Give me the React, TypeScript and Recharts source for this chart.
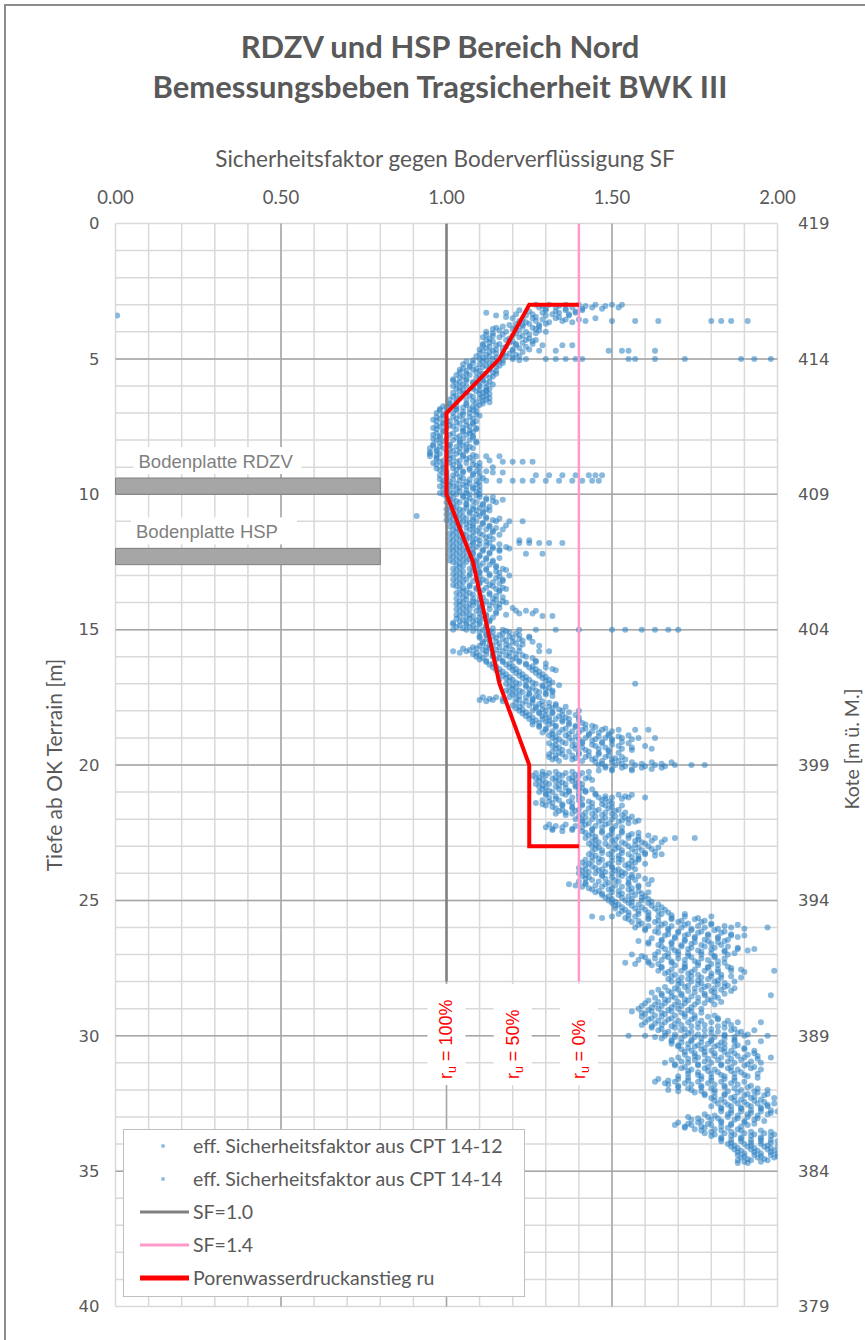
import React from 'react';
import {
  ScatterChart,
  Scatter,
  XAxis,
  YAxis,
  CartesianGrid,
  ReferenceArea,
  ReferenceDot,
} from 'recharts';

// ---------- axis / grid values ----------
const sfTicks = [0, 0.5, 1, 1.5, 2];
const depthTicks = [0, 5, 10, 15, 20, 25, 30, 35, 40];
const koteTicks = [379, 384, 389, 394, 399, 404, 409, 414, 419];
const sfMinor = [0, 0.1, 0.2, 0.3, 0.4, 0.5, 0.6, 0.7, 0.8, 0.9, 1, 1.1, 1.2, 1.3, 1.4, 1.5, 1.6, 1.7, 1.8, 1.9, 2];
const sfMajor = [0.5, 1, 1.5];
const depthMinor = [0, 1, 2, 3, 4, 5, 6, 7, 8, 9, 10, 11, 12, 13, 14, 15, 16, 17, 18, 19, 20, 21, 22, 23, 24, 25, 26, 27, 28, 29, 30, 31, 32, 33, 34, 35, 36, 37, 38, 39, 40];
const depthMajor = [5, 10, 15, 20, 25, 30, 35];

// ---------- series names ----------
const nameCpt1412 = 'eff. Sicherheitsfaktor aus CPT 14-12';
const nameCpt1414 = 'eff. Sicherheitsfaktor aus CPT 14-14';
const nameSf10 = 'SF=1.0';
const nameSf14 = 'SF=1.4';
const nameRu = 'Porenwasserdruckanstieg ru';

// ---------- CPT data: [depth, SF values...] ----------
const cpt1412Rows: number[][] = [
  [3.0, 1.27, 1.31, 1.36, 1.40, 1.45, 1.50, 1.53],
  [3.2, 1.22, 1.30, 1.36, 1.41],
  [3.4, 0.005, 1.15, 1.24, 1.30, 1.37],
  [3.6, 1.22, 1.27, 1.35, 1.42, 1.50, 1.57, 1.64, 1.80, 1.83, 1.86, 1.91],
  [3.8, 1.17, 1.23, 1.28],
  [4.0, 1.12, 1.18, 1.24, 1.30],
  [4.2, 1.11, 1.16, 1.22],
  [4.4, 1.13, 1.19, 1.23],
  [4.6, 1.12, 1.17, 1.22],
  [4.8, 1.10, 1.15, 1.19],
  [5.0, 1.10, 1.14, 1.20, 1.24, 1.30, 1.33, 1.36, 1.39, 1.41, 1.55, 1.57, 1.63, 1.72, 1.89, 1.93, 1.98],
  [5.2, 1.05, 1.10, 1.14],
  [5.4, 1.04, 1.08, 1.13],
  [5.6, 1.03, 1.07, 1.12],
  [5.8, 1.02, 1.06, 1.11],
  [6.0, 1.02, 1.06, 1.10],
  [6.2, 1.04, 1.09, 1.12],
  [6.4, 1.02, 1.08, 1.11],
  [6.6, 1.03, 1.09, 1.13],
  [6.8, 1.00, 1.05, 1.09],
  [7.0, 0.97, 1.02, 1.07],
  [7.2, 0.98, 1.03, 1.08],
  [7.4, 0.99, 1.04, 1.08],
  [7.6, 0.97, 1.03, 1.09],
  [7.8, 0.96, 1.01, 1.06],
  [8.0, 0.97, 1.02, 1.07],
  [8.2, 0.96, 1.01, 1.05],
  [8.4, 0.97, 1.02, 1.06],
  [8.6, 0.95, 1.00, 1.05, 1.09, 1.12, 1.16],
  [8.8, 0.98, 1.03, 1.17, 1.20, 1.23, 1.26],
  [9.0, 0.99, 1.04, 1.10, 1.14],
  [9.2, 0.99, 1.05, 1.10, 1.14, 1.17],
  [9.4, 1.00, 1.05, 1.11],
  [9.6, 0.99, 1.03, 1.07],
  [9.8, 0.99, 1.03, 1.08],
  [10.0, 0.99, 1.03, 1.07, 1.10],
  [10.2, 1.01, 1.06, 1.12, 1.17],
  [10.4, 1.01, 1.06, 1.11],
  [10.6, 1.01, 1.05, 1.09, 1.13],
  [10.8, 0.91, 1.01, 1.05, 1.10],
  [11.0, 1.01, 1.05, 1.09, 1.15, 1.19, 1.23],
  [11.2, 1.01, 1.04, 1.08, 1.13],
  [11.4, 1.03, 1.08, 1.14],
  [11.6, 1.03, 1.07, 1.12],
  [11.8, 1.03, 1.08, 1.13, 1.22, 1.25, 1.28, 1.31, 1.35],
  [12.0, 1.03, 1.08, 1.14, 1.19],
  [12.2, 1.03, 1.08, 1.13, 1.24, 1.29],
  [12.4, 1.03, 1.07, 1.12],
  [12.6, 1.03, 1.08, 1.13],
  [12.8, 1.03, 1.08, 1.12, 1.18],
  [13.0, 1.03, 1.07, 1.13, 1.19],
  [13.2, 1.03, 1.08, 1.12, 1.17],
  [13.4, 1.03, 1.07, 1.14],
  [13.6, 1.05, 1.10, 1.16],
  [13.8, 1.05, 1.11, 1.17],
  [14.0, 1.05, 1.09, 1.14, 1.18],
  [14.2, 1.05, 1.10, 1.16, 1.20],
  [14.4, 1.05, 1.10, 1.15, 1.22, 1.26],
  [14.6, 1.03, 1.07, 1.11],
  [14.8, 1.02, 1.06, 1.10],
  [15.0, 1.02, 1.06, 1.11, 1.17, 1.22, 1.27, 1.33, 1.40, 1.50, 1.54, 1.59, 1.63, 1.67, 1.70],
  [15.2, 1.12, 1.16, 1.22],
  [15.4, 1.13, 1.18, 1.23],
  [15.6, 1.10, 1.14, 1.19, 1.28],
  [15.8, 1.02, 1.06, 1.12, 1.17, 1.22, 1.28, 1.31],
  [16.0, 1.09, 1.14, 1.19, 1.24],
  [16.2, 1.12, 1.17, 1.22, 1.27],
  [16.4, 1.14, 1.19, 1.25, 1.30],
  [16.6, 1.16, 1.21, 1.27],
  [16.8, 1.18, 1.23, 1.29],
  [17.0, 1.18, 1.22, 1.27, 1.31, 1.57],
  [17.2, 1.20, 1.25, 1.30],
  [17.4, 1.20, 1.25, 1.30],
  [17.6, 1.10, 1.14, 1.22, 1.26],
  [17.8, 1.20, 1.25, 1.29, 1.33],
  [18.0, 1.22, 1.26, 1.30, 1.35, 1.40],
  [18.2, 1.24, 1.29, 1.34],
  [18.4, 1.26, 1.30, 1.35],
  [18.6, 1.28, 1.33, 1.39, 1.45],
  [18.8, 1.29, 1.34, 1.40, 1.46],
  [19.0, 1.32, 1.37, 1.42, 1.48, 1.53, 1.58, 1.63],
  [19.2, 1.31, 1.36, 1.41, 1.47, 1.55],
  [19.4, 1.33, 1.39, 1.46, 1.53, 1.62],
  [19.6, 1.31, 1.35, 1.40, 1.46],
  [19.8, 1.32, 1.38, 1.44, 1.50, 1.54],
  [20.0, 1.46, 1.51, 1.57, 1.63, 1.69, 1.74, 1.78],
  [20.2, 1.46, 1.50, 1.56],
  [20.4, 1.26, 1.30, 1.35, 1.40],
  [20.6, 1.28, 1.33, 1.38],
  [20.8, 1.28, 1.33, 1.39],
  [21.0, 1.28, 1.32, 1.37, 1.42],
  [21.2, 1.31, 1.38, 1.46, 1.50, 1.55, 1.60],
  [21.4, 1.27, 1.32, 1.38, 1.44, 1.50],
  [21.6, 1.33, 1.38, 1.43, 1.49],
  [21.8, 1.33, 1.38, 1.44, 1.50],
  [22.0, 1.39, 1.44, 1.50, 1.55],
  [22.2, 1.31, 1.36, 1.42, 1.48],
  [22.4, 1.32, 1.38, 1.44, 1.50],
  [22.6, 1.43, 1.49, 1.55, 1.61],
  [22.8, 1.44, 1.50, 1.57, 1.62],
  [23.0, 1.44, 1.49, 1.55, 1.61],
  [23.2, 1.44, 1.50, 1.57, 1.63],
  [23.4, 1.44, 1.50, 1.56],
  [23.6, 1.41, 1.46, 1.52, 1.57],
  [23.8, 1.40, 1.45, 1.50, 1.55],
  [24.0, 1.40, 1.45, 1.50, 1.54],
  [24.2, 1.42, 1.48, 1.55, 1.60],
  [24.4, 1.37, 1.42, 1.48, 1.55, 1.61],
  [24.6, 1.44, 1.49, 1.55],
  [24.8, 1.47, 1.52, 1.57],
  [25.0, 1.49, 1.54, 1.59],
  [25.2, 1.51, 1.56, 1.62],
  [25.4, 1.53, 1.58, 1.64],
  [25.6, 1.44, 1.50, 1.57, 1.64, 1.72, 1.80],
  [25.8, 1.56, 1.63, 1.70, 1.77],
  [26.0, 1.57, 1.64, 1.71, 1.78, 1.86, 1.97],
  [26.2, 1.64, 1.70, 1.76, 1.83],
  [26.4, 1.62, 1.69, 1.75, 1.82],
  [26.6, 1.61, 1.68, 1.74, 1.80],
  [26.8, 1.66, 1.73, 1.80, 1.88, 1.93],
  [27.0, 1.56, 1.63, 1.70, 1.77, 1.85],
  [27.2, 1.58, 1.65, 1.72, 1.79],
  [27.4, 1.62, 1.69, 1.76, 1.82],
  [27.6, 1.64, 1.71, 1.78, 1.86, 1.99],
  [27.8, 1.68, 1.74, 1.80, 1.86],
  [28.0, 1.68, 1.74, 1.81, 1.87],
  [28.2, 1.66, 1.72, 1.78, 1.84],
  [28.4, 1.62, 1.68, 1.75, 1.81],
  [28.6, 1.63, 1.69, 1.76, 1.82],
  [28.8, 1.60, 1.66, 1.72, 1.78],
  [29.0, 1.58, 1.64, 1.70, 1.77],
  [29.2, 1.60, 1.66, 1.72],
  [29.4, 1.61, 1.67, 1.74, 1.82],
  [29.6, 1.59, 1.65, 1.71, 1.78, 1.86],
  [29.8, 1.64, 1.71, 1.78, 1.86, 1.93],
  [30.0, 1.55, 1.60, 1.66, 1.72, 1.78, 1.84, 1.90, 1.97],
  [30.2, 1.68, 1.74, 1.80, 1.87, 1.95],
  [30.4, 1.70, 1.75, 1.81, 1.87],
  [30.6, 1.72, 1.78, 1.84],
  [30.8, 1.70, 1.76, 1.83, 1.90, 1.98],
  [31.0, 1.66, 1.73, 1.80, 1.87, 1.95],
  [31.2, 1.71, 1.78, 1.85, 1.92],
  [31.4, 1.73, 1.80, 1.87, 1.94],
  [31.6, 1.64, 1.70, 1.77, 1.84],
  [31.8, 1.67, 1.74, 1.81, 1.88],
  [32.0, 1.67, 1.74, 1.81, 1.89, 1.97],
  [32.2, 1.78, 1.84, 1.90, 1.96],
  [32.4, 1.81, 1.87, 1.93],
  [32.6, 1.80, 1.86, 1.92, 1.97],
  [32.8, 1.83, 1.89, 1.95, 2.00],
  [33.0, 1.73, 1.79, 1.85, 1.91],
  [33.2, 1.70, 1.76, 1.83, 1.90],
  [33.4, 1.72, 1.78, 1.85],
  [33.6, 1.78, 1.84, 1.90, 1.96],
  [33.8, 1.83, 1.89, 1.95],
  [34.0, 1.85, 1.90, 1.95],
  [34.2, 1.87, 1.92, 1.97],
  [34.4, 1.88, 1.93, 1.98],
  [34.6, 1.88, 1.92, 1.97],
];

const cpt1412RowsB: number[][] = [
  [3.05, 1.29, 1.34, 1.42, 1.48], [3.25, 1.25, 1.33, 1.39], [3.45, 1.18, 1.27, 1.34], [3.65, 1.24, 1.31, 1.38],
  [3.85, 1.15, 1.21, 1.26], [4.05, 1.14, 1.21, 1.27], [4.25, 1.13, 1.19, 1.25], [4.45, 1.11, 1.16, 1.21, 1.26],
  [4.65, 1.10, 1.15, 1.20, 1.25], [4.85, 1.12, 1.17, 1.21], [5.05, 1.08, 1.12, 1.17, 1.22], [5.25, 1.07, 1.12, 1.16],
  [5.45, 1.06, 1.10, 1.15], [5.65, 1.05, 1.10, 1.14], [5.85, 1.04, 1.08, 1.13], [6.05, 1.04, 1.08, 1.12],
  [6.25, 1.02, 1.06, 1.11], [6.45, 1.04, 1.10, 1.13], [6.65, 1.01, 1.06, 1.11], [6.85, 0.98, 1.03, 1.07],
  [7.05, 0.99, 1.05, 1.09], [7.25, 0.96, 1.00, 1.05], [7.45, 0.97, 1.01, 1.06], [7.65, 0.99, 1.05, 1.07],
  [7.85, 0.98, 1.04, 1.08], [8.05, 0.99, 1.04, 1.09], [8.25, 0.98, 1.03, 1.07], [8.45, 0.95, 1.00, 1.04],
  [8.65, 0.97, 1.02, 1.07], [8.85, 0.96, 1.01, 1.06, 1.10], [9.05, 0.97, 1.02, 1.07], [9.25, 1.00, 1.03, 1.08],
  [9.45, 0.98, 1.02, 1.07], [9.65, 1.01, 1.05, 1.09], [9.85, 1.01, 1.06, 1.10], [10.05, 1.01, 1.05, 1.09],
  [10.25, 1.03, 1.08, 1.14], [10.45, 1.03, 1.08, 1.13], [10.65, 1.03, 1.07, 1.11], [10.85, 1.03, 1.08, 1.12],
  [11.05, 1.03, 1.07, 1.11], [11.25, 1.03, 1.06, 1.10, 1.15], [11.45, 1.01, 1.05, 1.10], [11.65, 1.01, 1.05, 1.09, 1.14],
  [11.85, 1.01, 1.05, 1.10, 1.16], [12.05, 1.01, 1.05, 1.11, 1.16], [12.25, 1.01, 1.05, 1.10], [12.45, 1.01, 1.05, 1.09, 1.14],
  [12.65, 1.05, 1.10, 1.15], [12.85, 1.05, 1.10, 1.15], [13.05, 1.05, 1.10, 1.16], [13.25, 1.05, 1.10, 1.14],
  [13.45, 1.05, 1.09, 1.12, 1.17], [13.65, 1.03, 1.07, 1.13], [13.85, 1.03, 1.08, 1.14], [14.05, 1.03, 1.07, 1.11, 1.16],
  [14.25, 1.03, 1.07, 1.13], [14.45, 1.03, 1.07, 1.12, 1.18], [14.65, 1.05, 1.09, 1.13], [14.85, 1.04, 1.08, 1.12],
  [15.05, 1.08, 1.13, 1.18], [15.25, 1.10, 1.14, 1.19, 1.25], [15.45, 1.11, 1.15, 1.20, 1.26], [15.65, 1.08, 1.12, 1.16, 1.22],
  [15.85, 1.04, 1.09, 1.14, 1.19], [16.05, 1.11, 1.16, 1.21, 1.26], [16.25, 1.14, 1.19, 1.24, 1.30], [16.45, 1.16, 1.21, 1.27, 1.32],
  [16.65, 1.18, 1.23, 1.29], [16.85, 1.16, 1.20, 1.25, 1.31], [17.05, 1.20, 1.24, 1.29, 1.34], [17.25, 1.18, 1.22, 1.27, 1.32],
  [17.45, 1.22, 1.27, 1.32], [17.65, 1.12, 1.17, 1.24, 1.29], [17.85, 1.22, 1.27, 1.31, 1.36], [18.05, 1.24, 1.28, 1.32, 1.37],
  [18.25, 1.26, 1.31, 1.36, 1.40], [18.45, 1.28, 1.32, 1.37, 1.41], [18.65, 1.30, 1.36, 1.42, 1.48], [18.85, 1.32, 1.37, 1.43, 1.49],
  [19.05, 1.34, 1.40, 1.45, 1.50, 1.56], [19.25, 1.33, 1.39, 1.44, 1.50], [19.45, 1.35, 1.42, 1.49, 1.56], [19.65, 1.33, 1.38, 1.43, 1.49],
  [19.85, 1.34, 1.41, 1.47, 1.52], [20.05, 1.48, 1.54, 1.60, 1.66], [20.25, 1.29, 1.33, 1.38, 1.43], [20.45, 1.28, 1.33, 1.38, 1.43],
  [20.65, 1.30, 1.35, 1.40], [20.85, 1.30, 1.36, 1.41], [21.05, 1.30, 1.35, 1.40, 1.45], [21.25, 1.33, 1.41, 1.48, 1.53],
  [21.45, 1.29, 1.35, 1.41, 1.47], [21.65, 1.35, 1.40, 1.46, 1.52], [21.85, 1.36, 1.41, 1.47, 1.53], [22.05, 1.41, 1.47, 1.53, 1.58],
  [22.25, 1.33, 1.39, 1.45, 1.51], [22.45, 1.35, 1.41, 1.47, 1.53], [22.65, 1.45, 1.52, 1.58], [22.85, 1.46, 1.53, 1.59, 1.65],
  [23.05, 1.46, 1.52, 1.58, 1.64], [23.25, 1.47, 1.53, 1.60], [23.45, 1.46, 1.52, 1.58], [23.65, 1.43, 1.49, 1.55, 1.60],
  [23.85, 1.42, 1.47, 1.52, 1.57], [24.05, 1.42, 1.47, 1.52, 1.56], [24.25, 1.44, 1.51, 1.57, 1.62], [24.45, 1.39, 1.45, 1.51, 1.58],
  [24.65, 1.46, 1.52, 1.58], [24.85, 1.49, 1.55, 1.60], [25.05, 1.51, 1.56, 1.62], [25.25, 1.53, 1.59, 1.65],
  [25.45, 1.55, 1.61, 1.67], [25.65, 1.47, 1.54, 1.61, 1.68, 1.76], [25.85, 1.59, 1.66, 1.73, 1.80], [26.05, 1.60, 1.67, 1.74, 1.82, 1.90],
  [26.25, 1.67, 1.73, 1.79, 1.86], [26.45, 1.65, 1.72, 1.78, 1.85], [26.65, 1.64, 1.71, 1.77, 1.83], [26.85, 1.69, 1.76, 1.84, 1.91],
  [27.05, 1.59, 1.66, 1.73, 1.81], [27.25, 1.61, 1.68, 1.75, 1.82], [27.45, 1.65, 1.72, 1.79, 1.85], [27.65, 1.67, 1.74, 1.82, 1.90],
  [27.85, 1.71, 1.77, 1.83, 1.89], [28.05, 1.71, 1.77, 1.84], [28.25, 1.69, 1.75, 1.81, 1.87], [28.45, 1.65, 1.71, 1.78, 1.84],
  [28.65, 1.66, 1.72, 1.79], [28.85, 1.63, 1.69, 1.75, 1.81], [29.05, 1.61, 1.67, 1.73], [29.25, 1.63, 1.69, 1.75, 1.81],
  [29.45, 1.64, 1.70, 1.77, 1.85], [29.65, 1.62, 1.68, 1.74, 1.82], [29.85, 1.67, 1.74, 1.82, 1.89], [30.05, 1.63, 1.69, 1.75, 1.81, 1.87],
  [30.25, 1.71, 1.77, 1.83, 1.91], [30.45, 1.73, 1.78, 1.84, 1.90], [30.65, 1.75, 1.81, 1.87, 1.93], [30.85, 1.73, 1.79, 1.86, 1.94],
  [31.05, 1.69, 1.76, 1.83, 1.91], [31.25, 1.74, 1.81, 1.88, 1.95], [31.45, 1.76, 1.83, 1.90], [31.65, 1.67, 1.73, 1.80, 1.87],
  [31.85, 1.70, 1.77, 1.84, 1.92], [32.05, 1.70, 1.77, 1.85, 1.93], [32.25, 1.81, 1.87, 1.93], [32.45, 1.84, 1.90, 1.96],
  [32.65, 1.83, 1.89, 1.95], [32.85, 1.86, 1.92, 1.98], [33.05, 1.76, 1.82, 1.88, 1.94], [33.25, 1.73, 1.79, 1.86, 1.93],
  [33.45, 1.75, 1.81, 1.88], [33.65, 1.81, 1.87, 1.93, 1.99], [33.85, 1.86, 1.92, 1.98], [34.05, 1.87, 1.92, 1.97],
  [34.25, 1.89, 1.94, 1.99], [34.45, 1.90, 1.95, 2.00], [34.65, 1.90, 1.95],
];

const cpt1414Rows: number[][] = [
  [3.1, 1.28, 1.33, 1.38, 1.44, 1.52],
  [3.3, 1.12, 1.18, 1.29, 1.34, 1.39],
  [3.5, 1.20, 1.26, 1.33, 1.45],
  [3.7, 1.21, 1.25, 1.30],
  [3.9, 1.14, 1.20, 1.27],
  [4.1, 1.12, 1.17, 1.25],
  [4.3, 1.12, 1.18, 1.24, 1.27],
  [4.5, 1.11, 1.15, 1.21, 1.29, 1.35, 1.38],
  [4.7, 1.11, 1.14, 1.20, 1.28, 1.33, 1.49, 1.53, 1.55, 1.63],
  [4.9, 1.09, 1.13, 1.18, 1.22],
  [5.1, 1.06, 1.11, 1.16],
  [5.3, 1.07, 1.11, 1.15],
  [5.5, 1.04, 1.09, 1.14],
  [5.7, 1.04, 1.09, 1.13],
  [5.9, 1.03, 1.08, 1.12],
  [6.1, 1.03, 1.08, 1.13],
  [6.3, 1.05, 1.10, 1.13],
  [6.5, 1.01, 1.06, 1.12],
  [6.7, 1.01, 1.06, 1.10],
  [6.9, 0.98, 1.03, 1.08],
  [7.1, 0.99, 1.04, 1.10],
  [7.3, 0.97, 1.01, 1.06, 1.09],
  [7.5, 0.98, 1.02, 1.07],
  [7.7, 0.99, 1.05, 1.08],
  [7.9, 0.98, 1.03, 1.08],
  [8.1, 0.98, 1.04, 1.09],
  [8.3, 0.95, 0.99, 1.04, 1.08],
  [8.5, 0.95, 0.98, 1.03],
  [8.7, 0.97, 1.01, 1.06],
  [8.9, 0.97, 1.02, 1.08],
  [9.1, 0.98, 1.03, 1.07],
  [9.3, 0.98, 1.02, 1.08, 1.27, 1.31, 1.35, 1.39, 1.43, 1.45, 1.47],
  [9.5, 0.99, 1.04, 1.09, 1.12, 1.16, 1.20, 1.23, 1.26, 1.30, 1.34, 1.38, 1.41, 1.44, 1.46],
  [9.7, 0.98, 1.02, 1.06, 1.10],
  [9.9, 1.00, 1.04, 1.09],
  [10.1, 1.00, 1.05, 1.10, 1.14],
  [10.3, 1.00, 1.04, 1.09, 1.15],
  [10.5, 1.02, 1.06, 1.10],
  [10.7, 1.02, 1.07, 1.11],
  [10.9, 1.02, 1.06, 1.12, 1.16],
  [11.1, 1.02, 1.06, 1.11],
  [11.3, 1.02, 1.07, 1.12, 1.17],
  [11.5, 1.02, 1.06, 1.11, 1.16],
  [11.7, 1.02, 1.06, 1.10, 1.22, 1.25],
  [11.9, 1.02, 1.07, 1.12],
  [12.1, 1.02, 1.06, 1.11, 1.16],
  [12.3, 1.02, 1.06, 1.10],
  [12.5, 1.02, 1.06, 1.09, 1.14],
  [12.7, 1.04, 1.09, 1.15],
  [12.9, 1.04, 1.10, 1.16],
  [13.1, 1.04, 1.09, 1.15],
  [13.3, 1.04, 1.10, 1.16],
  [13.5, 1.04, 1.09, 1.15, 1.18],
  [13.7, 1.04, 1.08, 1.13],
  [13.9, 1.06, 1.10, 1.15],
  [14.1, 1.04, 1.08, 1.13],
  [14.3, 1.04, 1.09, 1.21, 1.24, 1.27],
  [14.5, 1.04, 1.08, 1.12, 1.29, 1.32],
  [14.7, 1.04, 1.08, 1.13],
  [14.9, 1.03, 1.07, 1.12],
  [15.1, 1.10, 1.14, 1.19],
  [15.3, 1.10, 1.15, 1.20, 1.25],
  [15.5, 1.11, 1.16, 1.21],
  [15.7, 1.05, 1.09, 1.13, 1.18],
  [15.9, 1.08, 1.12, 1.16, 1.21],
  [16.1, 1.10, 1.15, 1.20],
  [16.3, 1.13, 1.18, 1.24],
  [16.5, 1.15, 1.20, 1.26, 1.33],
  [16.7, 1.17, 1.22, 1.28],
  [16.9, 1.19, 1.24, 1.30],
  [17.1, 1.19, 1.24, 1.29],
  [17.3, 1.19, 1.23, 1.28, 1.32],
  [17.5, 1.11, 1.15, 1.19, 1.24, 1.28],
  [17.7, 1.21, 1.26, 1.31],
  [17.9, 1.21, 1.27, 1.32],
  [18.1, 1.23, 1.28, 1.32],
  [18.3, 1.25, 1.29, 1.33, 1.37],
  [18.5, 1.26, 1.31, 1.37, 1.42],
  [18.7, 1.30, 1.35, 1.41, 1.47, 1.52, 1.57, 1.61],
  [18.9, 1.31, 1.36, 1.43, 1.49, 1.55],
  [19.1, 1.33, 1.38, 1.44, 1.50],
  [19.3, 1.32, 1.38, 1.45, 1.52, 1.60],
  [19.5, 1.32, 1.37, 1.43, 1.49],
  [19.7, 1.31, 1.36, 1.42, 1.48, 1.53],
  [19.9, 1.45, 1.50, 1.56, 1.62, 1.68],
  [20.1, 1.48, 1.53, 1.59, 1.65],
  [20.3, 1.27, 1.31, 1.36, 1.41],
  [20.5, 1.27, 1.32, 1.37, 1.42],
  [20.7, 1.27, 1.31, 1.36, 1.41],
  [20.9, 1.29, 1.34, 1.40, 1.44],
  [21.1, 1.30, 1.36, 1.45, 1.52, 1.56],
  [21.3, 1.29, 1.34, 1.40, 1.47],
  [21.5, 1.30, 1.35, 1.41, 1.48, 1.53],
  [21.7, 1.34, 1.39, 1.45, 1.51],
  [21.9, 1.40, 1.45, 1.51, 1.56],
  [22.1, 1.41, 1.46, 1.52, 1.57],
  [22.3, 1.30, 1.35, 1.41, 1.47, 1.53],
  [22.5, 1.42, 1.47, 1.53, 1.58],
  [22.7, 1.42, 1.48, 1.55, 1.63, 1.69, 1.75],
  [22.9, 1.43, 1.48, 1.54, 1.60],
  [23.1, 1.45, 1.51, 1.56, 1.62],
  [23.3, 1.43, 1.49, 1.55, 1.60, 1.65],
  [23.5, 1.42, 1.47, 1.53, 1.58],
  [23.7, 1.42, 1.48, 1.54],
  [23.9, 1.41, 1.46, 1.51],
  [24.1, 1.41, 1.47, 1.53, 1.58],
  [24.3, 1.40, 1.46, 1.52],
  [24.5, 1.41, 1.47, 1.53, 1.58],
  [24.7, 1.45, 1.50, 1.56, 1.61],
  [24.9, 1.48, 1.53, 1.59],
  [25.1, 1.50, 1.55, 1.61],
  [25.3, 1.51, 1.57, 1.63],
  [25.5, 1.52, 1.58, 1.65, 1.72],
  [25.7, 1.55, 1.61, 1.68, 1.75],
  [25.9, 1.58, 1.65, 1.72, 1.80, 1.88],
  [26.1, 1.60, 1.67, 1.74, 1.81],
  [26.3, 1.66, 1.72, 1.79, 1.86, 1.90],
  [26.5, 1.58, 1.65, 1.72, 1.79, 1.84],
  [26.7, 1.65, 1.71, 1.78, 1.85],
  [26.9, 1.64, 1.70, 1.77, 1.84],
  [27.1, 1.60, 1.67, 1.74, 1.81],
  [27.3, 1.54, 1.61, 1.68, 1.76, 1.84],
  [27.5, 1.65, 1.72, 1.79, 1.86],
  [27.7, 1.66, 1.73, 1.80],
  [27.9, 1.67, 1.73, 1.79],
  [28.1, 1.70, 1.76, 1.82],
  [28.3, 1.64, 1.70, 1.77, 1.83],
  [28.5, 1.65, 1.71, 1.78, 1.98],
  [28.7, 1.61, 1.67, 1.73, 1.80],
  [28.9, 1.59, 1.65, 1.71],
  [29.1, 1.56, 1.62, 1.68, 1.74],
  [29.3, 1.59, 1.65, 1.72, 1.79],
  [29.5, 1.60, 1.66, 1.73, 1.80, 1.88, 1.95],
  [29.7, 1.62, 1.69, 1.76, 1.84],
  [29.9, 1.66, 1.73, 1.80, 1.88],
  [30.1, 1.65, 1.71, 1.77, 1.84],
  [30.3, 1.68, 1.73, 1.79, 1.84],
  [30.5, 1.71, 1.77, 1.83, 1.90],
  [30.7, 1.72, 1.78, 1.85, 1.91],
  [30.9, 1.68, 1.75, 1.82, 1.89],
  [31.1, 1.69, 1.76, 1.83, 1.90],
  [31.3, 1.73, 1.79, 1.86],
  [31.5, 1.70, 1.77, 1.84, 1.91],
  [31.7, 1.63, 1.69, 1.76, 1.83, 1.90],
  [31.9, 1.70, 1.77, 1.84, 1.91],
  [32.1, 1.75, 1.81, 1.88, 1.94],
  [32.3, 1.80, 1.86, 1.92, 1.99],
  [32.5, 1.82, 1.88, 1.94, 1.99],
  [32.7, 1.83, 1.89, 1.95],
  [32.9, 1.78, 1.85, 1.91, 1.97],
  [33.1, 1.74, 1.80, 1.87, 1.93],
  [33.3, 1.69, 1.74, 1.80, 1.86, 1.91],
  [33.5, 1.77, 1.83, 1.89, 1.95],
  [33.7, 1.80, 1.86, 1.92, 1.98],
  [33.9, 1.83, 1.89, 1.95, 2.00],
  [34.1, 1.86, 1.91, 1.96, 2.00],
  [34.3, 1.88, 1.93, 1.98],
  [34.5, 1.89, 1.94, 1.99],
  [34.7, 1.88, 1.91],
];

const cpt1414RowsB: number[][] = [
  [3.15, 1.30, 1.36, 1.41, 1.47], [3.35, 1.21, 1.26, 1.32, 1.37], [3.55, 1.23, 1.29, 1.36, 1.40], [3.75, 1.19, 1.23, 1.28],
  [3.95, 1.16, 1.22, 1.28], [4.15, 1.14, 1.20, 1.23], [4.35, 1.14, 1.20, 1.26], [4.55, 1.13, 1.18, 1.24],
  [4.75, 1.13, 1.17, 1.23], [4.95, 1.11, 1.15, 1.20], [5.15, 1.08, 1.13, 1.17], [5.35, 1.05, 1.09, 1.13],
  [5.55, 1.06, 1.11, 1.15], [5.75, 1.02, 1.06, 1.11], [5.95, 1.05, 1.10, 1.14], [6.15, 1.05, 1.10, 1.12],
  [6.35, 1.03, 1.07, 1.12], [6.55, 1.03, 1.08, 1.11], [6.75, 0.99, 1.03, 1.08], [6.95, 1.00, 1.05, 1.09],
  [7.15, 0.97, 1.02, 1.07], [7.35, 0.99, 1.03, 1.08], [7.55, 0.96, 1.00, 1.05, 1.09], [7.75, 0.97, 1.02, 1.07],
  [7.95, 0.96, 1.00, 1.05], [8.15, 0.96, 1.01, 1.06], [8.35, 0.97, 1.01, 1.06], [8.55, 0.97, 1.01, 1.05, 1.08],
  [8.75, 0.99, 1.04, 1.08, 1.13], [8.95, 0.99, 1.04, 1.09], [9.15, 1.00, 1.05, 1.09, 1.12], [9.35, 1.00, 1.04, 1.10],
  [9.55, 1.01, 1.06, 1.10], [9.75, 1.00, 1.04, 1.08], [9.95, 0.98, 1.02, 1.06], [10.15, 1.02, 1.07, 1.12],
  [10.35, 1.02, 1.06, 1.11], [10.55, 1.00, 1.04, 1.08, 1.12], [10.75, 1.00, 1.04, 1.09], [10.95, 1.00, 1.04, 1.08, 1.14],
  [11.15, 1.04, 1.08, 1.13, 1.18], [11.35, 1.04, 1.09, 1.14], [11.55, 1.04, 1.08, 1.13], [11.75, 1.04, 1.08, 1.12],
  [11.95, 1.04, 1.09, 1.14, 1.18], [12.15, 1.04, 1.08, 1.13], [12.35, 1.04, 1.08, 1.12, 1.16], [12.55, 1.04, 1.08, 1.11],
  [12.75, 1.02, 1.07, 1.12, 1.17], [12.95, 1.02, 1.07, 1.13], [13.15, 1.02, 1.06, 1.11, 1.17], [13.35, 1.02, 1.07, 1.13],
  [13.55, 1.06, 1.11, 1.16], [13.75, 1.06, 1.10, 1.15], [13.95, 1.04, 1.08, 1.12, 1.17], [14.15, 1.06, 1.10, 1.15],
  [14.35, 1.06, 1.11, 1.15], [14.55, 1.06, 1.10, 1.14], [14.75, 1.02, 1.06, 1.10], [14.95, 1.05, 1.09, 1.14],
  [15.15, 1.12, 1.17, 1.21], [15.35, 1.12, 1.17, 1.22], [15.55, 1.13, 1.18, 1.23], [15.75, 1.07, 1.11, 1.15, 1.20],
  [15.95, 1.10, 1.14, 1.18, 1.23], [16.15, 1.12, 1.17, 1.22, 1.27], [16.35, 1.15, 1.20, 1.26], [16.55, 1.17, 1.22, 1.28],
  [16.75, 1.19, 1.24, 1.30], [16.95, 1.21, 1.26, 1.32], [17.15, 1.21, 1.26, 1.31], [17.35, 1.21, 1.25, 1.30],
  [17.55, 1.13, 1.17, 1.21, 1.26], [17.75, 1.23, 1.28, 1.33], [17.95, 1.23, 1.29, 1.34], [18.15, 1.25, 1.30, 1.35, 1.39],
  [18.35, 1.27, 1.31, 1.35, 1.40], [18.55, 1.28, 1.33, 1.39, 1.44], [18.75, 1.32, 1.38, 1.44, 1.50], [18.95, 1.33, 1.39, 1.46, 1.52],
  [19.15, 1.35, 1.41, 1.47, 1.53], [19.35, 1.34, 1.41, 1.48, 1.56], [19.55, 1.34, 1.40, 1.46, 1.52], [19.75, 1.33, 1.39, 1.45, 1.51],
  [19.95, 1.47, 1.53, 1.59, 1.65], [20.15, 1.50, 1.56, 1.62], [20.35, 1.29, 1.34, 1.39], [20.55, 1.29, 1.34, 1.39, 1.44],
  [20.75, 1.29, 1.34, 1.39], [20.95, 1.31, 1.37, 1.42], [21.15, 1.33, 1.40, 1.48, 1.54], [21.35, 1.31, 1.37, 1.43, 1.49],
  [21.55, 1.32, 1.38, 1.44, 1.50], [21.75, 1.36, 1.42, 1.48, 1.54], [21.95, 1.42, 1.48, 1.54], [22.15, 1.43, 1.49, 1.55],
  [22.35, 1.32, 1.38, 1.44, 1.50], [22.55, 1.44, 1.50, 1.56], [22.75, 1.45, 1.51, 1.58, 1.66], [22.95, 1.45, 1.51, 1.57],
  [23.15, 1.47, 1.53, 1.59], [23.35, 1.45, 1.52, 1.58, 1.63], [23.55, 1.44, 1.50, 1.56], [23.75, 1.44, 1.50, 1.56],
  [23.95, 1.43, 1.48, 1.53], [24.15, 1.43, 1.50, 1.56], [24.35, 1.42, 1.49, 1.55], [24.55, 1.43, 1.50, 1.56],
  [24.75, 1.47, 1.53, 1.59], [24.95, 1.50, 1.56, 1.61], [25.15, 1.52, 1.58, 1.64], [25.35, 1.54, 1.60, 1.66],
  [25.55, 1.55, 1.61, 1.68], [25.75, 1.58, 1.64, 1.71, 1.78], [25.95, 1.61, 1.68, 1.76, 1.84], [26.15, 1.63, 1.70, 1.77, 1.84],
  [26.35, 1.69, 1.75, 1.82, 1.88], [26.55, 1.61, 1.68, 1.75, 1.82], [26.75, 1.68, 1.74, 1.81, 1.88], [26.95, 1.67, 1.73, 1.80, 1.87],
  [27.15, 1.63, 1.70, 1.77, 1.84], [27.35, 1.57, 1.64, 1.72, 1.80], [27.55, 1.68, 1.75, 1.82, 1.89], [27.75, 1.69, 1.76, 1.83],
  [27.95, 1.70, 1.76, 1.82], [28.15, 1.73, 1.79, 1.85], [28.35, 1.67, 1.73, 1.80, 1.86], [28.55, 1.68, 1.74, 1.81],
  [28.75, 1.64, 1.70, 1.76, 1.83], [28.95, 1.62, 1.68, 1.74], [29.15, 1.59, 1.65, 1.71, 1.77], [29.35, 1.62, 1.68, 1.75, 1.82],
  [29.55, 1.63, 1.69, 1.76, 1.84], [29.75, 1.65, 1.72, 1.80, 1.87], [29.95, 1.69, 1.76, 1.84, 1.91], [30.15, 1.68, 1.74, 1.80, 1.87],
  [30.35, 1.70, 1.76, 1.82, 1.88], [30.55, 1.74, 1.80, 1.86, 1.93], [30.75, 1.75, 1.81, 1.88, 1.94], [30.95, 1.71, 1.78, 1.85, 1.92],
  [31.15, 1.72, 1.79, 1.86, 1.93], [31.35, 1.76, 1.82, 1.89], [31.55, 1.73, 1.80, 1.87, 1.94], [31.75, 1.66, 1.72, 1.79, 1.86],
  [31.95, 1.73, 1.80, 1.87, 1.94], [32.15, 1.78, 1.84, 1.91, 1.97], [32.35, 1.83, 1.89, 1.95], [32.55, 1.85, 1.91, 1.97],
  [32.75, 1.86, 1.92, 1.98], [32.95, 1.81, 1.88, 1.94], [33.15, 1.77, 1.83, 1.90, 1.96], [33.35, 1.72, 1.77, 1.83, 1.89],
  [33.55, 1.80, 1.86, 1.92, 1.98], [33.75, 1.83, 1.89, 1.95], [33.95, 1.86, 1.92, 1.98], [34.15, 1.88, 1.93, 1.98],
  [34.35, 1.90, 1.95, 2.00], [34.55, 1.91, 1.96],
];

// ---------- line series ----------
const sf10Sf = [1.0, 1.0];
const sf10Depth = [0, 28];
const sf14Sf = [1.4, 1.4];
const sf14Depth = [0, 28];
const ruSf = [1.4, 1.25, 1.16, 1.0, 1.0, 1.08, 1.16, 1.25, 1.25, 1.4];
const ruDepth = [3, 3, 5, 7, 10, 12.5, 17, 20, 23, 23];

// ---------- annotations ----------
const plateNames = ['Bodenplatte RDZV', 'Bodenplatte HSP'];
const plateTop = [9.4, 12.0];
const plateBottom = [10.0, 12.6];
const plateSfEnd = 0.8;
const ruLabelSf = [1.0, 1.2, 1.4];
const ruLabelPct = ['100%', '50%', '0%'];
const ruLabelDepth = 31.6;

const toPoints = (rows: number[][]) =>
  rows.flatMap((row) => row.slice(1).map((sf) => ({ sf, d: row[0] })));
const toLine = (sfs: number[], depths: number[]) => sfs.map((sf, i) => ({ sf, d: depths[i] }));

const cpt1412 = toPoints(cpt1412Rows.concat(cpt1412RowsB));
const cpt1414 = toPoints(cpt1414Rows.concat(cpt1414RowsB));
const sf10 = toLine(sf10Sf, sf10Depth);
const sf14 = toLine(sf14Sf, sf14Depth);
const ru = toLine(ruSf, ruDepth);

const TXT = '#595959';
const DOT = '#2a7fc3';

const Dot = (p: any) => <circle cx={p.cx} cy={p.cy} r={3} fill={DOT} fillOpacity={0.55} />;
const NoShape = () => <g />;

const PlateLabel = (props: any) => {
  const vb = props.viewBox || {};
  const { text, dx, rectW } = props;
  return (
    <g>
      <rect x={vb.x + dx - 5} y={vb.y - 31} width={rectW} height={27} fill="#ffffff" />
      <text
        x={vb.x + dx}
        y={vb.y - 10}
        fill="#808080"
        fontSize={18.5}
        fontFamily="'Liberation Sans', Arial, sans-serif"
      >
        {text}
      </text>
    </g>
  );
};

const RuLabel = (props: any) => {
  const { cx, cy, pct } = props;
  if (cx == null || cy == null) return <g />;
  const tx = cx + 6;
  return (
    <g>
      <rect x={cx - 19} y={cy - 95} width={38} height={101} fill="#ffffff" />
      <text
        x={tx}
        y={cy}
        transform={`rotate(-90 ${tx} ${cy})`}
        fill="#ff0000"
        fontSize={18}
        fontFamily="'Liberation Sans', Arial, sans-serif"
      >
        <tspan>r</tspan>
        <tspan dy={4} fontSize={12.5}>u</tspan>
        <tspan dy={-4}>{` = ${pct}`}</tspan>
      </text>
    </g>
  );
};

const legendEntries = [
  { name: nameCpt1412, kind: 'dot', color: '#8dbfe6' },
  { name: nameCpt1414, kind: 'dot', color: '#8dbfe6' },
  { name: nameSf10, kind: 'line', color: '#808080', width: 3 },
  { name: nameSf14, kind: 'line', color: '#ff99cc', width: 3 },
  { name: nameRu, kind: 'line', color: '#ff0000', width: 5 },
];

const LegendBox = () => (
  <div
    style={{
      position: 'absolute',
      left: 123,
      top: 1129,
      width: 402,
      height: 168,
      boxSizing: 'border-box',
      border: '1px solid #bfbfbf',
      background: '#ffffff',
    }}
  >
    <svg width={400} height={166} style={{ position: 'absolute', left: 0, top: 0 }}>
      {legendEntries.map((e, i) => {
        const cy = 16 + i * 33;
        return (
          <g key={e.name}>
            {e.kind === 'dot' ? (
              <circle cx={39} cy={cy} r={2} fill={e.color} />
            ) : (
              <line x1={16} x2={65} y1={cy} y2={cy} stroke={e.color} strokeWidth={e.width} />
            )}
            <text x={69} y={cy + 7} fontSize={19.5} fill={TXT} fontFamily="Lato, sans-serif">
              {e.name}
            </text>
          </g>
        );
      })}
    </svg>
  </div>
);

export default function App() {
  return (
    <div
      style={{
        position: 'absolute',
        left: 0,
        top: 0,
        width: 865,
        height: 1340,
        overflow: 'hidden',
        background: '#ffffff',
        fontFamily: 'Lato, sans-serif',
      }}
    >
      <div
        style={{
          position: 'absolute',
          left: 4,
          top: 4,
          width: 1000,
          height: 2000,
          border: '2px solid #8c8c8c',
        }}
      />
      <ScatterChart
        width={865}
        height={1340}
        margin={{ top: 193.5, right: 27.5, bottom: 33.5, left: 55.5 }}
      >
        <CartesianGrid
          yAxisId="depth"
          horizontalValues={depthMinor}
          verticalValues={sfMinor}
          stroke="#d9d9d9"
          strokeWidth={1.5}
        />
        <CartesianGrid
          yAxisId="depth"
          horizontalValues={depthMajor}
          verticalValues={sfMajor}
          stroke="#a6a6a6"
          strokeWidth={1.5}
        />
        <XAxis
          type="number"
          dataKey="sf"
          domain={[0, 2]}
          ticks={sfTicks}
          interval={0}
          orientation="top"
          height={30}
          allowDataOverflow
          axisLine={false}
          tickLine={false}
          tickSize={0}
          tickMargin={20}
          tickFormatter={(v: number) => v.toFixed(2)}
          tick={{ fill: TXT, fontSize: 18.5, fontFamily: 'Lato, sans-serif' }}
        />
        <YAxis
          yAxisId="depth"
          type="number"
          dataKey="d"
          domain={[0, 40]}
          reversed
          ticks={depthTicks}
          interval={0}
          width={60}
          allowDataOverflow
          axisLine={false}
          tickLine={false}
          tickSize={0}
          tickMargin={16}
          tick={{ fill: TXT, fontSize: 16.5, fontFamily: "'DejaVu Sans', sans-serif" }}
        />
        <YAxis
          yAxisId="kote"
          orientation="right"
          type="number"
          domain={[379, 419]}
          ticks={koteTicks}
          interval={0}
          width={60}
          allowDataOverflow
          axisLine={false}
          tickLine={false}
          tickSize={0}
          tickMargin={20.5}
          tick={{ fill: TXT, fontSize: 16.5, fontFamily: "'DejaVu Sans', sans-serif", textAnchor: 'start' }}
        />
        {plateNames.map((n, i) => (
          <ReferenceArea
            key={n}
            yAxisId="depth"
            x1={0}
            x2={plateSfEnd}
            y1={plateTop[i]}
            y2={plateBottom[i]}
            fill="#a6a6a6"
            fillOpacity={1}
            stroke="#808080"
            strokeWidth={1}
            ifOverflow="visible"
            label={<PlateLabel text={n} dx={i === 0 ? 23 : 20.5} rectW={i === 0 ? 168 : 166} />}
          />
        ))}
        <Scatter
          name={nameCpt1412}
          data={cpt1412}
          yAxisId="depth"
          fill={DOT}
          shape={Dot}
          isAnimationActive={false}
        />
        <Scatter
          name={nameCpt1414}
          data={cpt1414}
          yAxisId="depth"
          fill={DOT}
          shape={Dot}
          isAnimationActive={false}
        />
        <Scatter
          name={nameSf10}
          data={sf10}
          yAxisId="depth"
          fill="#808080"
          line={{ stroke: '#808080', strokeWidth: 2.5 }}
          shape={NoShape}
          isAnimationActive={false}
        />
        <Scatter
          name={nameSf14}
          data={sf14}
          yAxisId="depth"
          fill="#ff99cc"
          line={{ stroke: '#ff99cc', strokeWidth: 2.5 }}
          shape={NoShape}
          isAnimationActive={false}
        />
        <Scatter
          name={nameRu}
          data={ru}
          yAxisId="depth"
          fill="#ff0000"
          line={{ stroke: '#ff0000', strokeWidth: 4, strokeLinejoin: 'miter' }}
          shape={NoShape}
          isAnimationActive={false}
        />
        {ruLabelSf.map((s, i) => (
          <ReferenceDot
            key={ruLabelPct[i]}
            yAxisId="depth"
            x={s}
            y={ruLabelDepth}
            ifOverflow="visible"
            shape={(p: any) => <RuLabel cx={p.cx} cy={p.cy} pct={ruLabelPct[i]} />}
          />
        ))}
      </ScatterChart>
      <LegendBox />
      <svg
        width={865}
        height={1340}
        style={{ position: 'absolute', left: 0, top: 0, pointerEvents: 'none' }}
      >
        <text x={440} y={58} textAnchor="middle" fontSize={31} fontWeight={700} fill={TXT} fontFamily="Lato, sans-serif">
          RDZV und HSP Bereich Nord
        </text>
        <text x={440} y={98} textAnchor="middle" fontSize={31} fontWeight={700} fill={TXT} fontFamily="Lato, sans-serif">
          Bemessungsbeben Tragsicherheit BWK III
        </text>
        <text x={445} y={167} textAnchor="middle" fontSize={22.5} fill={TXT} fontFamily="Lato, sans-serif">
          Sicherheitsfaktor gegen Boderverflüssigung SF
        </text>
        <text
          x={62}
          y={765}
          textAnchor="middle"
          fontSize={21}
          fill={TXT}
          fontFamily="Lato, sans-serif"
          transform="rotate(-90 62 765)"
        >
          Tiefe ab OK Terrain [m]
        </text>
        <text
          x={859}
          y={749}
          textAnchor="middle"
          fontSize={19.5}
          fill={TXT}
          fontFamily="Lato, sans-serif"
          transform="rotate(-90 859 749)"
        >
          Kote [m ü. M.]
        </text>
      </svg>
    </div>
  );
}
